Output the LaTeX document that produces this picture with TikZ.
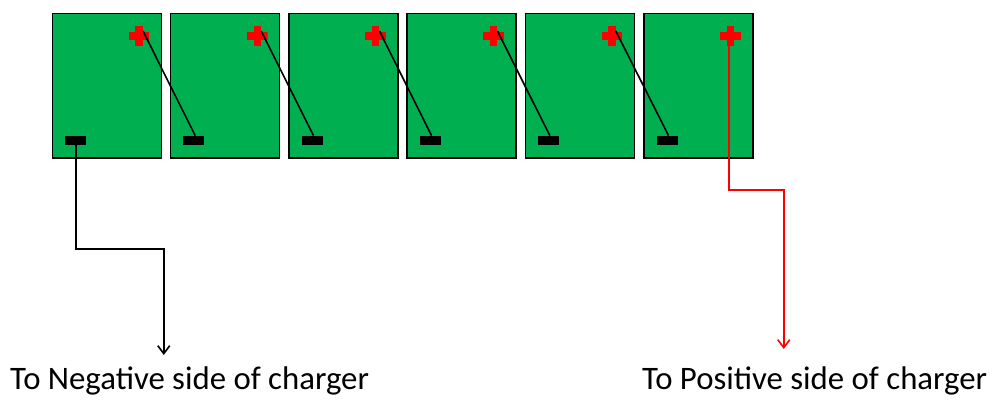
\documentclass[tikz,border=0pt]{standalone}
\usepackage{fontspec}
\setmainfont{Carlito}
\usetikzlibrary{calc,arrows.meta}
\definecolor{cellgreen}{HTML}{00B050}
\tikzset{
  cell/.style={draw=black,fill=cellgreen,line width=1.2pt,minimum width=109,minimum height=144.5,inner sep=0pt,outer sep=0pt},
  negterm/.style={fill=black,minimum width=21,minimum height=9.5,inner sep=0pt,outer sep=0pt},
  posterm/.style={minimum size=20.6,inner sep=0pt,outer sep=0pt,path picture={
      \fill[red] ($(path picture bounding box.center)+(-10.3,-3.7)$) rectangle ++(20.6,7.4);
      \fill[red] ($(path picture bounding box.center)+(-3.7,-10.3)$) rectangle ++(7.4,20.6);}},
  wire/.style={draw=black,line width=1.6pt},
  lead/.style={line width=1.6pt,-{Straight Barb[length=8pt,width=12pt]}},
  caption/.style={anchor=base west,inner sep=0pt,font=\fontsize{32.8}{38}\selectfont}
}
\begin{document}
\begin{tikzpicture}[x=1pt,y=-1pt]
  \useasboundingbox (0,0) rectangle (997,416);
  \def \Cells{
    1/52.5,
    2/170.7,
    3/289,
    4/407,
    5/525.3,
    6/644}
  \def \Links{
    1/2,
    2/3,
    3/4,
    4/5,
    5/6}
  \foreach \id / \x in \Cells{
    \node[cell,anchor=north west] (c\id) at (\x,13.5) {};
    \node[posterm] (p\id) at (\x+86.5,36) {};
    \node[negterm] (n\id) at (\x+23,140.3) {};
    \coordinate (t\id) at (\x+90.5,31);
  }
  \foreach \x / \y in \Links{
    \path[wire] (t\x) -- ([xshift=1.5]n\y.north);
  }
  % leads to the charger
  \coordinate (negmid) at (163.8,249);
  \coordinate (negend) at (163.8,355);
  \coordinate (posmid) at (783.8,190);
  \coordinate (posend) at (783.8,349);
  \draw[lead,black] ([xshift=0.5]n1.south) |- (negmid) -- (negend);
  \draw[lead,red] ([xshift=-1.5]p6.center) |- (posmid) -- (posend);
  \node[caption] (negtext) at (10,389) {To Negative side of charger};
  \node[caption] (postext) at (642,389) {To Positive side of charger};
\end{tikzpicture}
\end{document}
